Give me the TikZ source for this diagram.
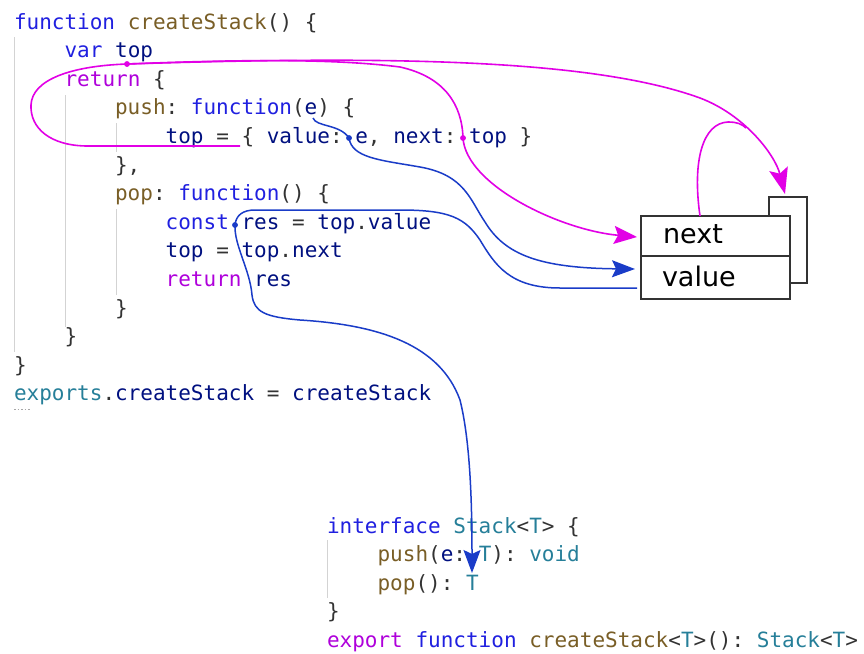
\documentclass[tikz,border=0pt]{standalone}
\usepackage{fontspec}
\usetikzlibrary{arrows.meta}
\newfontfamily\codefont{DejaVu Sans Mono}
\newfontfamily\labelfont{DejaVu Sans}
\definecolor{kwBlue}{HTML}{2020E0}
\definecolor{varNavy}{HTML}{001080}
\definecolor{fnBrown}{HTML}{795E26}
\definecolor{ctlPink}{HTML}{AF00DB}
\definecolor{tyTeal}{HTML}{267F99}
\definecolor{punct}{HTML}{333333}
\definecolor{guideGray}{HTML}{D3D3D3}
\definecolor{mag}{HTML}{E200E6}
\definecolor{blu}{HTML}{1A3CC8}
\definecolor{boxGray}{HTML}{333333}
\newcommand\cKw[1]{\textcolor{kwBlue}{#1}}
\newcommand\cVar[1]{\textcolor{varNavy}{#1}}
\newcommand\cFn[1]{\textcolor{fnBrown}{#1}}
\newcommand\cCtl[1]{\textcolor{ctlPink}{#1}}
\newcommand\cTy[1]{\textcolor{tyTeal}{#1}}
\begin{document}
\begin{tikzpicture}[x=1pt,y=-1pt,
  codeline/.style={anchor=base west, inner sep=0pt, outer sep=0pt, text=punct,
    font=\codefont\fontsize{21}{25}\selectfont\frenchspacing},
  guide/.style={draw=guideGray, line width=1pt},
  magline/.style={draw=mag, line width=1.6pt},
  bluline/.style={draw=blu, line width=1.5pt},
  magtip/.style={-{Stealth[length=23pt,width=18pt,inset=4pt]}},
  bigtip/.style={-{Stealth[length=26pt,width=19pt,inset=5pt]}},
  blutip/.style={-{Stealth[length=23pt,width=17pt,inset=4pt]}},
  cell/.style={draw=boxGray, line width=2pt, fill=white, inner sep=0pt, outer sep=0pt, anchor=north west},
  lbl/.style={anchor=base west, inner sep=0pt, outer sep=0pt, text=black,
    font=\labelfont\fontsize{27}{30}\selectfont},
  dotm/.style={circle, fill=mag, inner sep=0pt, minimum size=5.5pt},
  dotb/.style={circle, fill=blu, inner sep=0pt, minimum size=5.5pt}
]
\fill[white] (0,0) rectangle (864,653);
\useasboundingbox (0,0) rectangle (864,653);

% indent guides
\draw[guide] (14,37) -- (14,352);
\draw[guide] (65.5,95) -- (65.5,327);
\draw[guide] (116,123) -- (116,152);
\draw[guide] (116,209) -- (116,295);
\draw[guide] (327,540) -- (327,598);

% top code
\node[codeline] (c0)  at (14,29)       {\cKw{function} \cFn{createStack}() \{};
\node[codeline] (c1)  at (64.6,57.6)   {\cKw{var} \cVar{top}};
\node[codeline] (c2)  at (64.6,86.2)   {\cCtl{return} \{};
\node[codeline] (c3)  at (115.1,114.8) {\cFn{push}: \cKw{function}(\cVar{e}) \{};
\node[codeline] (c4)  at (165.7,143.4) {\cVar{top} = \{ \cVar{value}: \cVar{e}, \cVar{next}: \cVar{top} \}};
\node[codeline] (c5)  at (115.1,172)   {\},};
\node[codeline] (c6)  at (115.1,200.6) {\cFn{pop}: \cKw{function}() \{};
\node[codeline] (c7)  at (165.7,229.2) {\cKw{const} \cVar{res} = \cVar{top}.\cVar{value}};
\node[codeline] (c8)  at (165.7,257.8) {\cVar{top} = \cVar{top}.\cVar{next}};
\node[codeline] (c9)  at (165.7,286.4) {\cCtl{return} \cVar{res}};
\node[codeline] (c10) at (115.1,315)   {\}};
\node[codeline] (c11) at (64.6,343.6)  {\}};
\node[codeline] (c12) at (14,372.2)    {\}};
\node[codeline] (c13) at (14,400.8)    {\cTy{exports}.\cVar{createStack} = \cVar{createStack}};
\draw[gray!70, line width=1pt, dash pattern=on 1.5pt off 2pt] (14,409) -- (30,409);

% bottom code
\node[codeline] (b0) at (327,533)   {\cKw{interface} \cTy{Stack}<\cTy{T}> \{};
\node[codeline] (b1) at (377.6,561.5) {\cFn{push}(\cVar{e}: \cTy{T}): \cTy{void}};
\node[codeline] (b2) at (377.6,590)   {\cFn{pop}(): \cTy{T}};
\node[codeline] (b3) at (327,618.5) {\}};
\node[codeline] (b4) at (327,647)   {\cCtl{export} \cKw{function} \cFn{createStack}<\cTy{T}>(): \cTy{Stack}<\cTy{T}>};

% stack node boxes
\node[cell, minimum width=38pt, minimum height=86pt] (back) at (769,197) {};
\node[cell, minimum width=149pt, minimum height=40pt] (nextCell) at (641,216) {};
\node[cell, minimum width=149pt, minimum height=43pt] (valueCell) at (641,256) {};
\node[lbl] (nextLbl) at (663,243) {next};
\node[lbl] (valueLbl) at (662,286) {value};

% named points
\node[dotm] (dTop) at (127,64) {};
\node[dotm] (dNext) at (463,138) {};
\node[dotb] (dVal) at (349,138) {};
\node[dotb] (dRes) at (235,225) {};
\coordinate (uEnd) at (240,146);
\coordinate (backTip) at (785,194);
\coordinate (loopOut) at (700,216);
\coordinate (nextIn) at (637,237);
\coordinate (eParam) at (313,118);
\coordinate (valIn) at (635,269);
\coordinate (valOut) at (637,288);
\coordinate (tTip) at (472,573);

% magenta connectors
\draw[magline] (uEnd) -- (88,146) .. controls (50,146) and (30,128) .. (31,105)
  .. controls (32,80) and (70,66) .. (dTop.center);
\draw[magline, bigtip] (dTop.center) .. controls (380,56) and (590,58) .. (700,98)
  .. controls (745,115) and (775,155) .. (backTip);
\draw[magline] (loopOut) .. controls (692,160) and (703,123) .. (728,122)
  .. controls (737,122) and (742,124) .. (746,128);
\draw[magline, magtip] (dTop.center) .. controls (230,60) and (330,58) .. (400,67)
  .. controls (445,77) and (462,105) .. (dNext.center)
  .. controls (466,185) and (560,230) .. (nextIn);

% blue connectors
\draw[bluline, blutip] (eParam) .. controls (316,127) and (340,124) .. (dVal.center)
  .. controls (352,158) and (380,160) .. (420,167)
  .. controls (465,175) and (470,200) .. (485,222)
  .. controls (505,255) and (540,268) .. (valIn);
\draw[bluline, blutip] (valOut) -- (560,288) .. controls (510,288) and (495,265) .. (480,240)
  .. controls (465,218) and (450,210) .. (400,210) -- (255,210)
  .. controls (243,210) and (236,215) .. (dRes.center)
  .. controls (234,245) and (250,270) .. (252,295)
  .. controls (254,312) and (265,317) .. (300,320)
  .. controls (380,325) and (440,345) .. (460,400)
  .. controls (470,440) and (472,500) .. (tTip);

% dots on top
\node[dotm] at (dTop) {};
\node[dotm] at (dNext) {};
\node[dotb] at (dVal) {};
\node[dotb] at (dRes) {};
\end{tikzpicture}
\end{document}
